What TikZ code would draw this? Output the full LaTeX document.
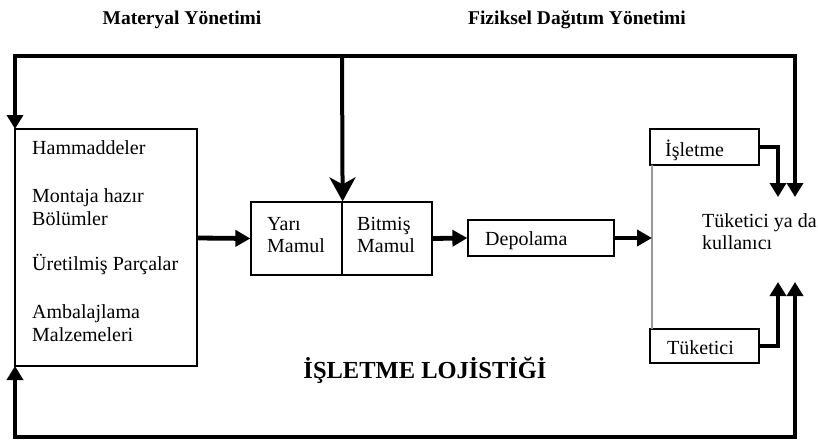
\documentclass[tikz,border=0pt]{standalone}
\usepackage{fontspec}
\setmainfont{Liberation Serif}
\usetikzlibrary{arrows.meta}

\begin{document}
\begin{tikzpicture}[x=1pt,y=-1pt,
  txt/.style={anchor=west,inner sep=0pt,align=left,font=\fontsize{20}{22.5}\selectfont},
  head/.style={inner sep=0pt,font=\fontsize{19.5}{22}\selectfont\bfseries},
  flow/.style={line width=4.8pt,line join=miter},
  tip/.style={-{Triangle[length=14pt,width=16pt]}},
  bigtip/.style={-{Stealth[length=24pt,width=26pt,inset=7pt]}}]

\useasboundingbox (0,0) rectangle (818,441);

% headings
\node[head] (mh) at (182,20) {Materyal Yönetimi};
\node[head] (fh) at (577,20) {Fiziksel Dağıtım Yönetimi};
\node[inner sep=0pt,font=\fontsize{24.5}{27}\selectfont\bfseries] (il) at (425,370) {İŞLETME LOJİSTİĞİ};

% material box
\draw[line width=1.2pt] (15,129) rectangle (197,366);
\coordinate (matnw) at (15,129);
\coordinate (matsw) at (15,366);
\coordinate (mate) at (197,238);
\node[txt] (t1) at (32,148) {Hammaddeler};
\node[txt] (t2) at (32,207) {Montaja hazır\\Bölümler};
\node[txt] (t3) at (32,265) {Üretilmiş Parçalar};
\node[txt] (t4) at (32,323) {Ambalajlama\\Malzemeleri};

% semi-finished / finished box
\node[draw,line width=1.2pt,minimum width=91pt,minimum height=73pt,inner sep=0pt] (yari) at (296.5,238.5) {};
\node[draw,line width=1.2pt,minimum width=90pt,minimum height=73pt,inner sep=0pt] (bitmis) at (387,238.5) {};
\node[txt] (ty) at (267,235) {Yarı\\Mamul};
\node[txt] (tb) at (357,235) {Bitmiş\\Mamul};

% storage
\node[draw,line width=1.2pt,minimum width=146pt,minimum height=36pt,inner sep=0pt] (dep) at (541,238) {};
\node[txt] (td) at (485,241) {Depolama};

% customer side
\node[draw,line width=1.2pt,minimum width=109pt,minimum height=36pt,inner sep=0pt] (isl) at (704.5,147) {};
\node[txt] (ti) at (665,150) {İşletme};
\node[draw,line width=1.2pt,minimum width=109pt,minimum height=34pt,inner sep=0pt] (tuk) at (704.5,346) {};
\node[txt] (tt) at (667,348) {Tüketici};
\draw[line width=1.5pt,gray!80] (652,165) -- (652,329);
\coordinate (bar) at (652,238);
\node[txt] (tk) at (702,231.5) {Tüketici ya da\\kullanıcı};

% control lines
\coordinate (top) at (342,56);
\coordinate (topr) at (795,56);
\coordinate (kr) at (795,197);
\coordinate (kl) at (778,197);
\coordinate (kbl) at (778,282);
\coordinate (kbr) at (795,282);
\coordinate (botr) at (795,437);

\draw[flow,tip] (top) -| (matnw);
\draw[flow,tip] (top) -- (topr) -- (kr);
\draw[line width=4pt,bigtip] (top) -- (yari.north east);
\draw[flow,tip] (isl.east) -| (kl);
\draw[flow,tip] (tuk.east) -| (kbl);
\draw[flow,{Triangle[length=14pt,width=16pt]}-{Triangle[length=14pt,width=16pt]}] (matsw) |- (botr) -- (kbr);

% main flow
\draw[flow,-{Triangle[length=15pt,width=16pt]}] (mate) -- (yari.west);
\draw[flow,-{Triangle[length=15pt,width=16pt]}] (bitmis.east) -- (dep.west);
\draw[flow,-{Triangle[length=15pt,width=16pt]}] (dep.east) -- (bar);
\end{tikzpicture}
\end{document}
